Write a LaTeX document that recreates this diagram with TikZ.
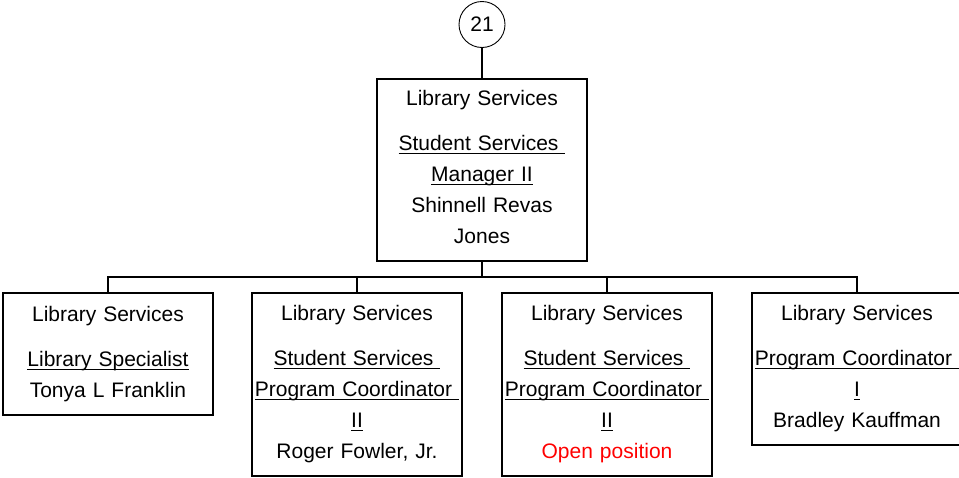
\documentclass[tikz,border=0pt]{standalone}
\usepackage{fontspec}
\setmainfont{Liberation Sans}
\newcommand\ulx[1]{\leavevmode\setbox0\hbox{#1}\rlap{\rule[-3.5pt]{\wd0}{1.4pt}}\box0}
\begin{document}
\begin{tikzpicture}[x=1pt,y=-1pt,
  box/.style={draw, line width=1.6pt, minimum width=210pt, text width=206pt, inner xsep=2pt, align=center, font=\fontsize{21}{31}\selectfont},
  conn/.style={line width=1.6pt},
  badge/.style={draw, circle, line width=0.9pt, minimum size=46pt, inner sep=0pt, font=\fontsize{21}{25}\selectfont}]
\useasboundingbox (0,0) rectangle (959,477);
\node[badge] (c) at (482,24.5) {21};
\node[box, minimum height=182pt] (m) at (482,170) {Library Services\\[14pt]\ulx{Student Services }\\\ulx{Manager II}\\Shinnell Revas\\Jones\rule[-6pt]{0pt}{0pt}};
\node[box, minimum height=122pt] (b1) at (108,354) {Library Services\\[14pt]\ulx{Library Specialist}\\Tonya L Franklin};
\node[box, minimum height=183pt] (b2) at (357,384.5) {Library Services\\[14pt]\ulx{Student Services }\\\ulx{Program Coordinator }\\\ulx{II}\\Roger Fowler, Jr.};
\node[box, minimum height=183pt] (b3) at (607,384.5) {Library Services\\[14pt]\ulx{Student Services }\\\ulx{Program Coordinator }\\\ulx{II}\\\textcolor{red}{Open position}};
\node[box, minimum height=152pt] (b4) at (857,369) {Library Services\\[14pt]\ulx{Program Coordinator }\\\ulx{I}\\Bradley Kauffman};
\coordinate (bus) at (482,277);
\draw[conn] (c) -- (m);
\draw[conn] (m.south) -- (bus);
\draw[conn] (b1.north) |- (bus) -| (b4.north);
\draw[conn] (b2.north) -- (b2.north |- bus);
\draw[conn] (b3.north) -- (b3.north |- bus);
\end{tikzpicture}
\end{document}
